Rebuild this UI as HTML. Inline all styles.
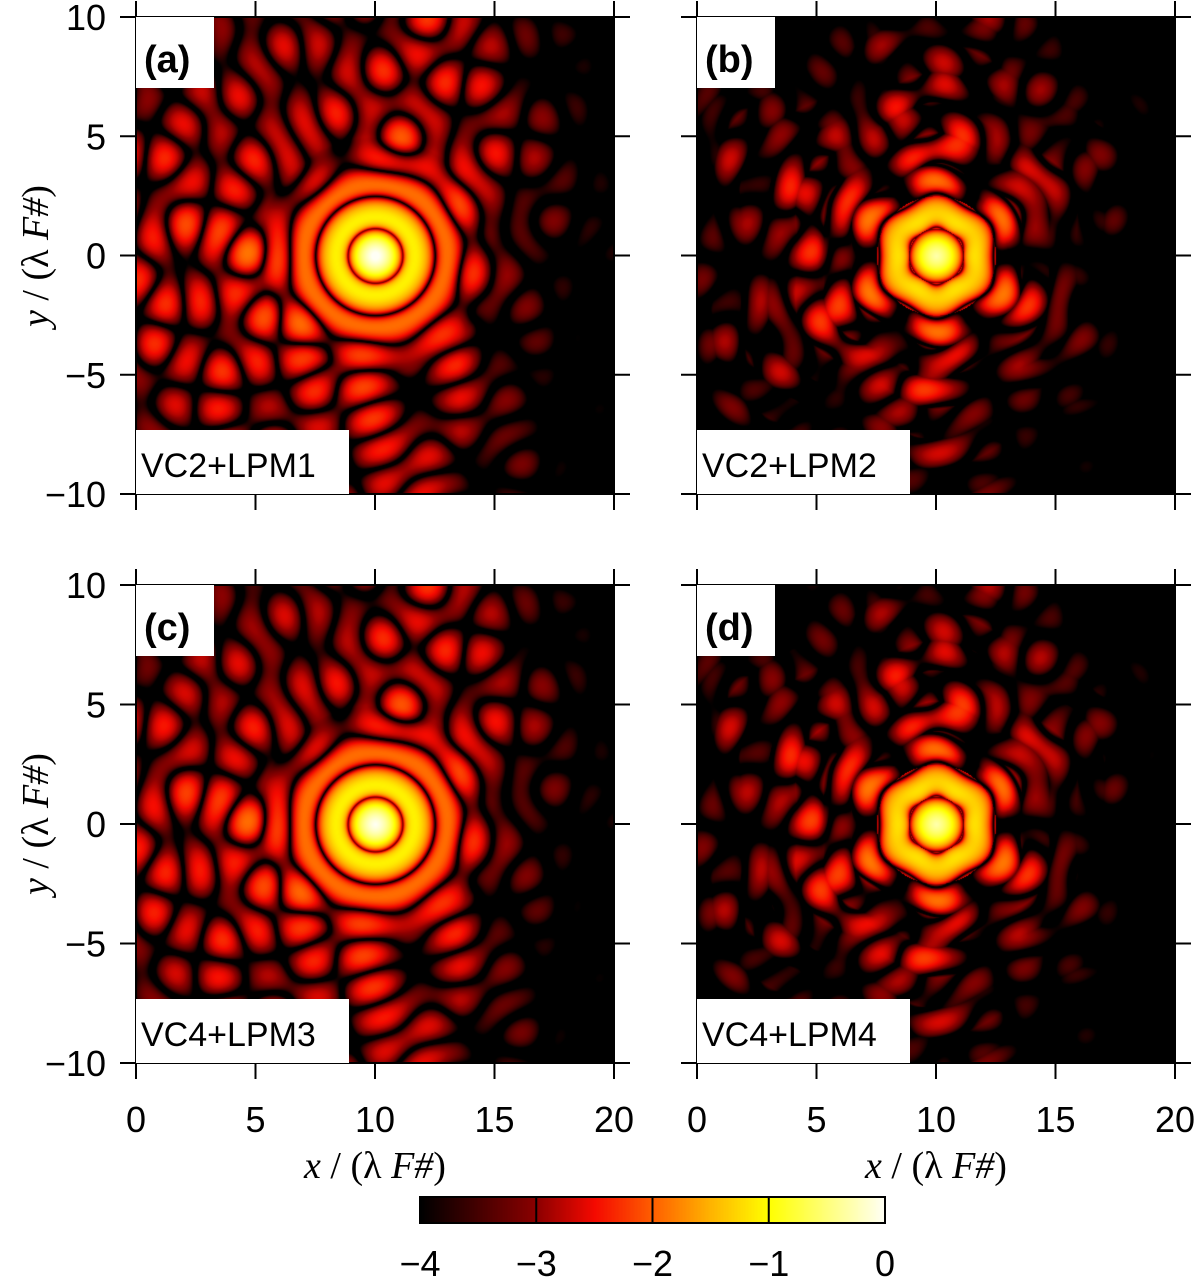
<!DOCTYPE html>
<html><head><meta charset="utf-8">
<style>
html,body{margin:0;padding:0;background:#fff;}
#wrap{position:relative;width:1200px;height:1281px;overflow:hidden;font-family:"Liberation Sans",sans-serif;}
canvas{position:absolute;display:block;}
svg{position:absolute;left:0;top:0;}
</style></head>
<body>
<div id="wrap">
<canvas id="ca" width="478" height="477" style="left:136px;top:17px;width:478px;height:477px"></canvas>
<canvas id="cb" width="478" height="477" style="left:697px;top:17px;width:478px;height:477px"></canvas>
<canvas id="cc" width="478" height="478" style="left:136px;top:585px;width:478px;height:478px"></canvas>
<canvas id="cd" width="478" height="478" style="left:697px;top:585px;width:478px;height:478px"></canvas>
<canvas id="cbar" width="465" height="26" style="left:420px;top:1197px;width:465px;height:26px"></canvas>
<svg id="ov" width="1200" height="1281"></svg>
</div>
<script>
// tick labels
const xTicks=[0,5,10,15,20];
const yTicks=[10,5,0,-5,-10];
const cbTicks=[-4,-3,-2,-1,0];
// panel descriptions
const panelLetters=["(a)","(b)","(c)","(d)"];
const panelNames=["VC2+LPM1","VC2+LPM2","VC4+LPM3","VC4+LPM4"];
// envelope (log10 intensity) vs radius from PSF center, per panel
const envRadii=[0,1,2,3,4,6,8,10,12,14];
const envA=[0.1,-0.5,-1.3,-1.9,-2.2,-2.45,-2.6,-2.75,-2.9,-3.1];
const envB=[-0.4,-0.9,-1.5,-1.9,-2.1,-2.5,-2.9,-3.2,-3.5,-3.8];
const envC=[0,-0.5,-1.3,-1.9,-2.2,-2.45,-2.6,-2.75,-2.9,-3.1];
const envD=[-0.4,-0.9,-1.5,-1.9,-2.1,-2.5,-2.9,-3.2,-3.5,-3.8];
// left-side brightening and right-side dimming, hex strength, speckle strength, contrast
const leftBoost=[0.1,0.0,0.05,0.0];
const rightDim=[0.2,0.15,0.2,0.15];
const hexAmt=[0.0,1.0,0.0,1.0];
const speckle=[0.7,0.45,0.65,0.5];
const contrast=[0.9,1.05,0.9,1.05];
const offset=[0.0,0.1,0.0,0.1];
const centerX=[10,10,10,10], centerY=[0,0,0,0];
// speckle wave vectors/phases (plane-wave components of residual aberration field)
const waveKx=[2.4,-1.7,0.8,2.0,-2.5,1.2];
const waveKy=[0.8,1.9,-2.5,-1.6,-0.6,2.3];
const wavePh=[0.3,1.7,2.9,4.1,5.2,0.9];
// colormap stops
const cmVals=[-4,-3,-2.5,-2,-1.5,-1,0];
const cmCols=[[0,0,0],[140,0,0],[245,10,0],[255,95,0],[255,180,0],[255,255,0],[255,255,245]];

function cmap(v){
  if(v<=cmVals[0])return cmCols[0];
  for(let i=1;i<cmVals.length;i++){
    if(v<=cmVals[i]){const t=(v-cmVals[i-1])/(cmVals[i]-cmVals[i-1]);const a=cmCols[i-1],b=cmCols[i];
      return [a[0]+(b[0]-a[0])*t,a[1]+(b[1]-a[1])*t,a[2]+(b[2]-a[2])*t];}
  }
  return cmCols[cmCols.length-1];
}
function env(arr,r){
  if(r>=envRadii[envRadii.length-1])return arr[arr.length-1];
  for(let i=1;i<envRadii.length;i++){if(r<=envRadii[i]){const t=(r-envRadii[i-1])/(envRadii[i]-envRadii[i-1]);return arr[i-1]+(arr[i]-arr[i-1])*t;}}
}
const envs=[envA,envB,envC,envD];
function clamp(v,a,b){return Math.max(a,Math.min(b,v));}
function field(p,x,y){
  const dx=x-centerX[p],dy=y-centerY[p];
  const r=Math.hypot(dx,dy),th=Math.atan2(dy,dx);
  let L=env(envs[p],r);
  L+=leftBoost[p]*Math.max(0,-dx-2)/8;
  L-=rightDim[p]*Math.max(0,dx-3.5);
  const rh=r*(1+0.05*hexAmt[p]*Math.cos(6*th));
  let ph;
  if(r<1.15) ph=Math.PI/2*r/1.15;
  else if(rh<2.5) ph=Math.PI/2+Math.PI*(rh-1.15)/1.35;
  else ph=Math.PI*1.5+Math.PI*(rh-2.5)/1.2;
  let A=Math.cos(ph);
  if(r>2.5 && hexAmt[p]>0){
    A=Math.abs(A)*(0.5+0.5*Math.cos(6*th+Math.PI+0.3*Math.sin(r)));
  }
  let n=0;for(let k=0;k<waveKx.length;k++)n+=Math.cos(waveKx[k]*x+waveKy[k]*y+wavePh[k]);
  n/=2.4;
  const s=speckle[p]*clamp((r-3)/2,0,1);
  A=(1-s)*A+s*n;
  const g=r<2.5?0.9:contrast[p];
  return L+g*Math.log10(A*A+0.0015)+offset[p];
}
function drawPanel(id,p){
  const c=document.getElementById(id),ctx=c.getContext('2d');
  const W=c.width,H=c.height,img=ctx.createImageData(W,H);
  for(let j=0;j<H;j++)for(let i=0;i<W;i++){
    const x=i/W*20,y=10-j/H*20;
    const col=cmap(field(p,x,y));const k=(j*W+i)*4;
    img.data[k]=col[0];img.data[k+1]=col[1];img.data[k+2]=col[2];img.data[k+3]=255;
  }
  ctx.putImageData(img,0,0);
}
drawPanel('ca',0);drawPanel('cb',1);drawPanel('cc',2);drawPanel('cd',3);
(function(){const c=document.getElementById('cbar'),ctx=c.getContext('2d');
  for(let i=0;i<c.width;i++){const col=cmap(-4+4*i/(c.width-1));ctx.fillStyle=`rgb(${col[0]|0},${col[1]|0},${col[2]|0})`;ctx.fillRect(i,0,1,26);}})();

const NS='http://www.w3.org/2000/svg';
const ov=document.getElementById('ov');
function el(tag,attrs,txt){const e=document.createElementNS(NS,tag);for(const k in attrs)e.setAttribute(k,attrs[k]);if(txt!==undefined)e.textContent=txt;ov.appendChild(e);return e;}
const panels=[[136,17],[697,17],[136,585],[697,585]];
const PW=478;
panels.forEach((pp,p)=>{
  const [x0,y0]=pp;const h=p<2?477:478;
  const sx=v=>x0+v/20*PW, sy=v=>y0+(10-v)/20*h;
  const f=el('rect',{x:x0,y:y0,width:PW,height:h,fill:'none',stroke:'#000','stroke-width':2});
  
  
  xTicks.forEach(t=>{
    const a=el('line',{x1:sx(t),x2:sx(t),y1:y0-16,y2:y0,stroke:'#000','stroke-width':2});
    
    const b=el('line',{x1:sx(t),x2:sx(t),y1:y0+h,y2:y0+h+16,stroke:'#000','stroke-width':2});
    
    if(p>=2){const tl=el('text',{x:sx(t),y:1132,'font-size':36,'text-anchor':'middle','font-family':'Liberation Sans'},String(t));
      }
  });
  yTicks.forEach(t=>{
    const a=el('line',{x1:x0-16,x2:x0,y1:sy(t),y2:sy(t),stroke:'#000','stroke-width':2});
    
    const b=el('line',{x1:x0+PW,x2:x0+PW+16,y1:sy(t),y2:sy(t),stroke:'#000','stroke-width':2});
    
    if(p%2==0){const tl=el('text',{x:106,y:sy(t)+13,'font-size':36,'text-anchor':'end','font-family':'Liberation Sans'},String(t).replace('-','\u2212'));
      }
  });
  const lb=el('rect',{x:x0,y:y0,width:78,height:71,fill:'#fff'});
  
  const lt=el('text',{x:x0+8,y:y0+55,'font-size':38,'font-weight':'bold','font-family':'Liberation Sans'},panelLetters[p]);
  
  const nb=el('rect',{x:x0,y:y0+h-64,width:213,height:64,fill:'#fff'});
  
  const nt=el('text',{x:x0+5,y:y0+h-17,'font-size':34,'font-family':'Liberation Sans'},panelNames[p]);
  
});
[375,936].forEach(cx=>{
  const t=el('text',{x:cx,y:1178,'font-size':38,'text-anchor':'middle','font-family':'Liberation Serif'});
  
  t.innerHTML='<tspan font-style="italic">x</tspan> / (λ <tspan font-style="italic">F#</tspan>)';
});
[256,824].forEach(cy=>{
  const t=el('text',{x:0,y:0,'font-size':38,'text-anchor':'middle','font-family':'Liberation Serif',transform:`translate(48,${cy}) rotate(-90)`});
  
  t.innerHTML='<tspan font-style="italic">y</tspan> / (λ <tspan font-style="italic">F#</tspan>)';
});
const cbf=el('rect',{x:420,y:1197,width:465,height:26,fill:'none',stroke:'#000','stroke-width':2});

cbTicks.forEach(t=>{
  const x=420+(t+4)/4*465;
  if(t>-4&&t<0){const l=el('line',{x1:x,x2:x,y1:1197,y2:1223,stroke:'#000','stroke-width':2});
    }
  const tl=el('text',{x:x,y:1276,'font-size':36,'text-anchor':'middle','font-family':'Liberation Sans'},String(t).replace('-','\u2212'));
  
});
</script>
</body></html>
